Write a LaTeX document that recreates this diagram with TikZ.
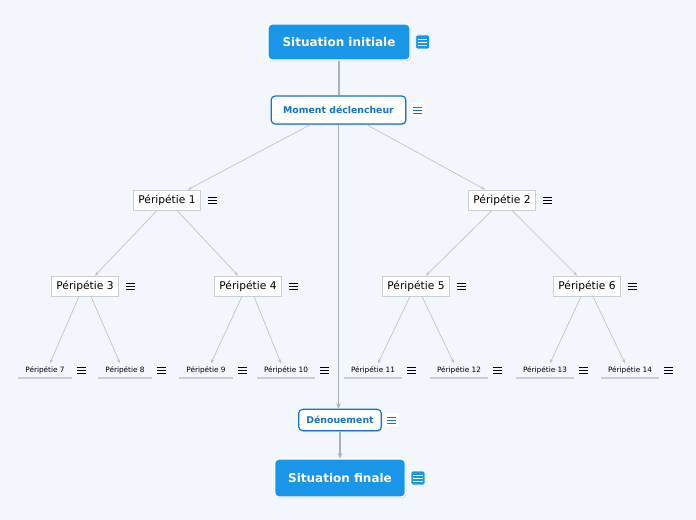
\documentclass[tikz,border=0pt]{standalone}
\usepackage{fontspec}
\setmainfont{DejaVu Sans}
\usepackage{xcolor}
\usepackage{tikz}
\usetikzlibrary{positioning,arrows.meta,calc,shadows}

\definecolor{paper}{RGB}{243,246,253}
\definecolor{mainblue}{RGB}{26,150,232}
\definecolor{linkblue}{RGB}{22,112,214}
\definecolor{wire}{RGB}{190,193,202}
\definecolor{trunkgray}{RGB}{172,176,186}
\definecolor{boxgray}{RGB}{204,206,212}

\tikzset{
  start/.style={fill=mainblue, draw=white, line width=1pt, rounded corners=3pt,
    text=white, font=\fontsize{9}{11}\selectfont\bfseries,
    minimum width=106.5pt, minimum height=27pt,
    drop shadow={shadow xshift=0.6pt, shadow yshift=-0.9pt, opacity=0.35}},
  trigger/.style={fill=white, draw=linkblue, line width=0.9pt, rounded corners=3pt,
    text=linkblue, font=\fontsize{7}{9}\selectfont\bfseries,
    minimum width=101pt, minimum height=21pt,
    drop shadow={shadow xshift=0.6pt, shadow yshift=-0.8pt, opacity=0.3}},
  episode/.style={fill=white, draw=boxgray, line width=0.7pt,
    font=\fontsize{8}{10}\selectfont, minimum width=50pt, minimum height=15pt},
  leaf/.style={font=\fontsize{5.5}{7}\selectfont, inner xsep=5pt, inner ysep=2pt},
  underline/.style={draw=boxgray, line width=1.4pt},
  menu/.style={inner sep=0pt, rounded corners=1.5pt, path picture={
    \foreach \dy in {-2.3pt,0pt,2.3pt}
      \draw[#1, line width=0.6pt, sharp corners]
        ([xshift=-3.4pt,yshift=\dy]path picture bounding box.center) -- ++(6.8pt,0);}},
  menublue/.style={menu=white, fill=mainblue, draw=white, line width=0.5pt, minimum size=10.5pt},
  menuwhite/.style={menu=linkblue, fill=white, minimum size=10.5pt},
  menublack/.style={menu=black, minimum size=9pt},
  trunk/.style={draw=trunkgray, line width=0.9pt},
  branch/.style={draw=wire, line width=0.5pt, -{Stealth[length=3pt,width=2.4pt]}},
}

\begin{document}
\begin{tikzpicture}[x=0.75pt,y=-0.75pt]
\fill[paper] (0,0) rectangle (696,520);
\useasboundingbox (0,0) rectangle (696,520);

% top and bottom of the story
\node[start] (si) at (339,42) {Situation initiale};
\node[menublue, right=3.5pt of si] (si-m) {};
\node[trigger] (md) at (338.5,110) {Moment déclencheur};
\node[menuwhite, right=3pt of md] (md-m) {};
\node[trigger, minimum width=62pt, minimum height=16pt] (den) at (340,420) {Dénouement};
\node[menuwhite, right=2pt of den] (den-m) {};
\node[start, minimum width=98pt, minimum height=28.5pt] (sf) at (340,478) {Situation finale};
\node[menublue, right=3.5pt of sf] (sf-m) {};

% episodes
\foreach \n/\x/\y in {1/167/200, 2/502/200, 3/85/286, 4/248/286, 5/416/286, 6/587/286}{
  \node[episode] (p\n) at (\x,\y) {Péripétie \n};
  \node[menublack, right=4pt of p\n] (p\n-m) {};
}
\foreach \n/\x in {7/45, 8/125, 9/206, 10/286, 11/373, 12/459, 13/545, 14/630}{
  \node[leaf] (p\n) at (\x,370) {Péripétie \n};
  \draw[underline] ([yshift=-1pt]p\n.south west) -- ([yshift=-1pt]p\n.south east);
  \node[menublack, right=2.5pt of p\n] (p\n-m) {};
}

% connectors
\draw[trunk] (si.south) -- (si.south |- md.north);
\draw[trunk, -{Stealth[length=4pt,width=3.5pt]}] (md.south) -- (md.south |- den.north);
\draw[trunk, -{Stealth[length=4pt,width=3.5pt]}] (den) -- (sf);
\draw[branch] ($(md.south)+(-28,0)$) -- ($(p1.north)+(21,0)$);
\draw[branch] ($(md.south)+(28,0)$) -- ($(p2.north)+(-17,0)$);
\foreach \a/\b/\c in {p1/p3/p4, p2/p5/p6}{
  \draw[branch] ($(\a.south)+(-10,0)$) -- ($(\b.north)+(10,0)$);
  \draw[branch] ($(\a.south)+(10,0)$) -- ($(\c.north)+(-10,0)$);
}
\foreach \a/\b/\c in {p3/p7/p8, p4/p9/p10, p5/p11/p12, p6/p13/p14}{
  \draw[branch] ($(\a.south)+(-6,0)$) -- ($(\b.north)+(5,0)$);
  \draw[branch] ($(\a.south)+(6,0)$) -- ($(\c.north)+(-5,0)$);
}
\end{tikzpicture}
\end{document}
